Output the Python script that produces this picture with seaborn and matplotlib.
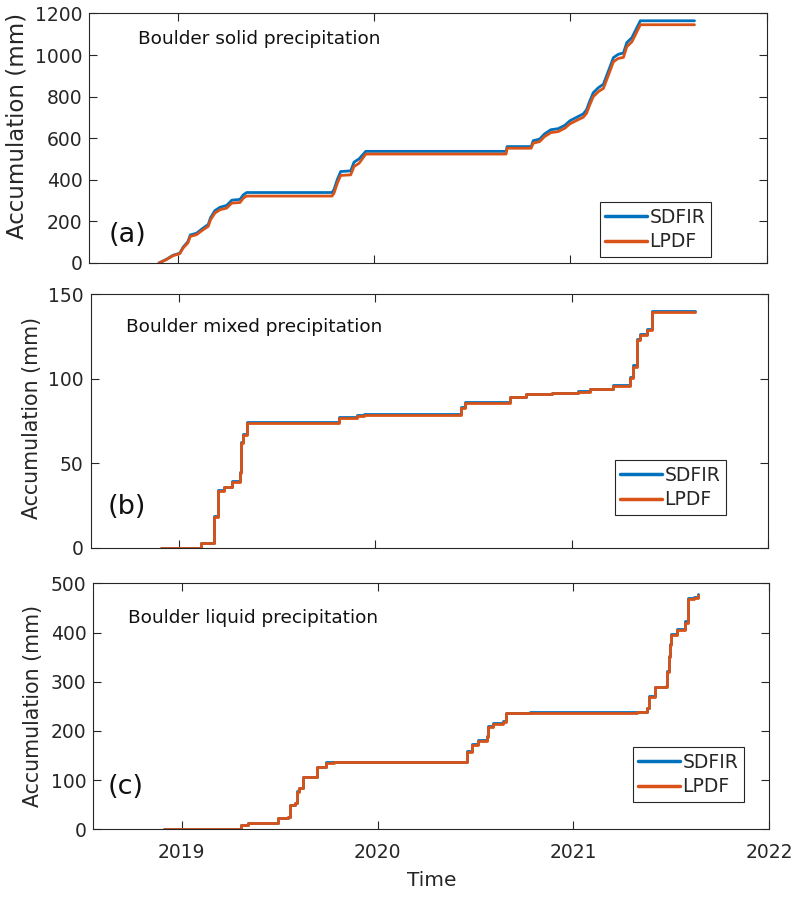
import matplotlib
matplotlib.use("Agg")
import matplotlib.pyplot as plt
import numpy as np
import pandas as pd
import seaborn as sns

# ---------------- data ----------------
series_names = ["SDFIR", "LPDF"]
colors = {"SDFIR": "#0072BD", "LPDF": "#D95319"}

# (a) solid precipitation
t_solid = [2018.903, 2018.94, 2018.974, 2019.009, 2019.026, 2019.05, 2019.063, 2019.094,
           2019.128, 2019.154, 2019.166, 2019.188, 2019.214, 2019.248, 2019.274, 2019.316,
           2019.333, 2019.35, 2019.785, 2019.795, 2019.812, 2019.829, 2019.88, 2019.897,
           2019.923, 2019.957, 2020.672, 2020.677, 2020.80, 2020.81, 2020.843, 2020.868,
           2020.90, 2020.937, 2020.971, 2020.997, 2021.03, 2021.065, 2021.082, 2021.096,
           2021.116, 2021.142, 2021.168, 2021.2, 2021.219, 2021.244, 2021.27, 2021.287,
           2021.313, 2021.33, 2021.356, 2021.632]
lpdf_solid = [0, 16, 35, 45, 72, 96, 128, 136, 160, 176, 208, 240, 256, 264, 288, 291,
              312, 322, 322, 336, 384, 421, 424, 464, 480, 524, 524, 552, 552, 576, 584, 608,
              627, 632, 648, 669, 685, 701, 720, 755, 800, 824, 840, 920, 968, 984, 989, 1040,
              1064, 1096, 1146, 1146]
sdfir_solid = [0, 17, 37, 47, 76, 102, 135, 143, 168, 185, 218, 252, 268, 277, 302, 306,
               328, 339, 339, 353, 402, 440, 443, 485, 501, 537, 537, 560, 560, 588, 596, 621,
               641, 646, 662, 684, 700, 717, 737, 773, 819, 843, 860, 940, 988, 1004, 1010, 1060,
               1084, 1116, 1165, 1165]

# (b) mixed precipitation
t_mixed = [2018.908, 2019.112, 2019.175, 2019.196, 2019.226, 2019.269, 2019.308, 2019.315,
           2019.325, 2019.345, 2019.813, 2019.906, 2019.94, 2020.434, 2020.456, 2020.685,
           2020.77, 2020.898, 2021.034, 2021.094, 2021.213, 2021.298, 2021.315, 2021.332,
           2021.349, 2021.383, 2021.408, 2021.629]
lpdf_mixed = [0, 2.6, 18.3, 33.7, 35.7, 39.0, 44.0, 61.7, 66.6, 73.5, 76.5, 77.9, 78.4,
              82.4, 85.7, 88.9, 90.7, 91.3, 92.2, 93.6, 95.6, 100.1, 107.0, 122.8, 125.7,
              129.0, 139.5, 139.5]
sdfir_mixed = [0, 2.6, 18.5, 34.0, 36.0, 39.3, 44.5, 62.2, 67.2, 74.5, 77.3, 78.6, 79.2,
               83.0, 86.2, 89.2, 91.0, 91.6, 92.5, 93.9, 96.0, 101.0, 108.0, 123.5, 126.3,
               129.5, 139.8, 139.8]

# (c) liquid precipitation
t_liquid = [2018.91, 2019.30, 2019.336, 2019.489, 2019.54, 2019.554, 2019.578, 2019.588,
            2019.60, 2019.617, 2019.69, 2019.736, 2019.779, 2020.455, 2020.48, 2020.514,
            2020.557, 2020.566, 2020.59, 2020.642, 2020.656, 2020.78, 2021.324, 2021.375,
            2021.388, 2021.417, 2021.474, 2021.48, 2021.487, 2021.492, 2021.497, 2021.528,
            2021.571, 2021.583, 2021.613, 2021.635]
lpdf_liquid = [0, 8.8, 12.2, 22.4, 25.7, 49.5, 52.8, 76.6, 83.3, 105.7, 126.0, 135.5, 136.5,
               157.9, 171.4, 180.2, 188.3, 208.7, 214.0, 218.8, 235.8, 237.1, 237.5, 246.0,
               269.6, 288.6, 290.0, 320.0, 350.0, 375.0, 395.0, 405.0, 420.0, 467.5, 469.5, 476.3]
sdfir_liquid = [0, 8.8, 12.5, 22.8, 26.0, 50.0, 53.3, 77.5, 84.0, 106.5, 127.0, 136.5, 137.5,
                159.0, 172.5, 181.5, 189.5, 210.0, 215.5, 220.0, 237.0, 238.3, 238.7, 247.5,
                271.0, 290.0, 291.5, 322.0, 352.0, 377.0, 397.0, 407.0, 423.0, 470.5, 472.5, 479.0]

panel_titles = ["Boulder solid precipitation", "Boulder mixed precipitation",
                "Boulder liquid precipitation"]
panel_tags = ["(a)", "(b)", "(c)"]
yticks_list = [[0, 200, 400, 600, 800, 1000, 1200], [0, 50, 100, 150], [0, 100, 200, 300, 400, 500]]
xtick_years = [2019, 2020, 2021, 2022]

# ---------------- style ----------------
sns.set_theme(style="white")
plt.rcParams["font.family"] = ["DejaVu Sans"]
INK = "#262626"

W, H = 799, 897
fig = plt.figure(figsize=(W / 100, H / 100), dpi=100)

# axes boxes in pixels: left, right, top, bottom
boxes = [(89.3, 766.7, 13.5, 263.0), (90.7, 767.7, 294.0, 547.7), (93.3, 769.3, 583.3, 829.3)]
title_pos = [(138, 39), (126, 327), (128, 618)]
tag_pos = [(127, 235), (127, 507), (126, 787)]
ylab_pos = [(17, 126), (31.5, 418), (33.5, 706)]
ylab_size = [16.5, 14.8, 14.8]
leg_anchor = [(711, 257), (726, 515), (744, 802)]
draw_styles = ["default", "steps-post", "steps-post"]

datasets = [(t_solid, sdfir_solid, lpdf_solid), (t_mixed, sdfir_mixed, lpdf_mixed),
            (t_liquid, sdfir_liquid, lpdf_liquid)]

for i, ((l, r, t, b), (tt, s_vals, l_vals)) in enumerate(zip(boxes, datasets)):
    ax = fig.add_axes([l / W, 1 - b / H, (r - l) / W, (b - t) / H])
    df = pd.DataFrame({
        "time": list(tt) + list(tt),
        "value": list(s_vals) + list(l_vals),
        "series": ["SDFIR"] * len(tt) + ["LPDF"] * len(tt),
    })
    sns.lineplot(data=df, x="time", y="value", hue="series", hue_order=series_names,
                 palette=colors, estimator=None, sort=False, drawstyle=draw_styles[i],
                 lw=2.0, ax=ax)
    ax.set_xlim(2018.548, 2022.0)
    yt = yticks_list[i]
    ax.set_ylim(yt[0], yt[-1])
    ax.set_yticks(yt)
    ax.set_xticks(xtick_years)
    if i < 2:
        ax.set_xticklabels([])
        ax.set_xlabel("")
    else:
        ax.set_xticklabels([str(y) for y in xtick_years])
        ax.set_xlabel("Time", fontsize=14.5, color=INK, labelpad=6)
    for sp in ax.spines.values():
        sp.set_visible(True)
        sp.set_color(INK)
        sp.set_linewidth(0.8)
    ax.tick_params(axis="both", which="major", direction="in", length=5.5, width=0.8,
                   colors=INK, labelsize=13.5, top=True, right=True, bottom=True, left=True)
    ax.tick_params(axis="x", pad=10)
    ax.tick_params(axis="y", pad=5)
    ax.set_ylabel("Accumulation (mm)", fontsize=ylab_size[i], color=INK)
    ax.yaxis.label.set_verticalalignment("center")
    lx, ly = ylab_pos[i]
    ax.yaxis.set_label_coords((lx - l) / (r - l), (b - ly) / (b - t))

    # legend
    handles, labels = ax.get_legend_handles_labels()
    if ax.get_legend():
        ax.get_legend().remove()
    ax_, ay_ = leg_anchor[i]
    leg = ax.legend(handles, labels, loc="lower right",
                    bbox_to_anchor=((ax_ - l) / (r - l), (b - ay_) / (b - t)),
                    fontsize=13.5, frameon=True, fancybox=False, framealpha=1,
                    edgecolor=INK, handlelength=2.2, handletextpad=0.15,
                    labelspacing=0.3, borderpad=0.3, borderaxespad=0)
    leg.get_frame().set_linewidth(0.8)
    for line in leg.get_lines():
        line.set_linewidth(2.5)

    fig.text(title_pos[i][0] / W, 1 - title_pos[i][1] / H, panel_titles[i],
             ha="left", va="center", fontsize=13.3, color="#111111")
    fig.text(tag_pos[i][0] / W, 1 - tag_pos[i][1] / H, panel_tags[i],
             ha="center", va="center", fontsize=19.5, color="#111111")

fig.savefig("out.png", dpi=100)
